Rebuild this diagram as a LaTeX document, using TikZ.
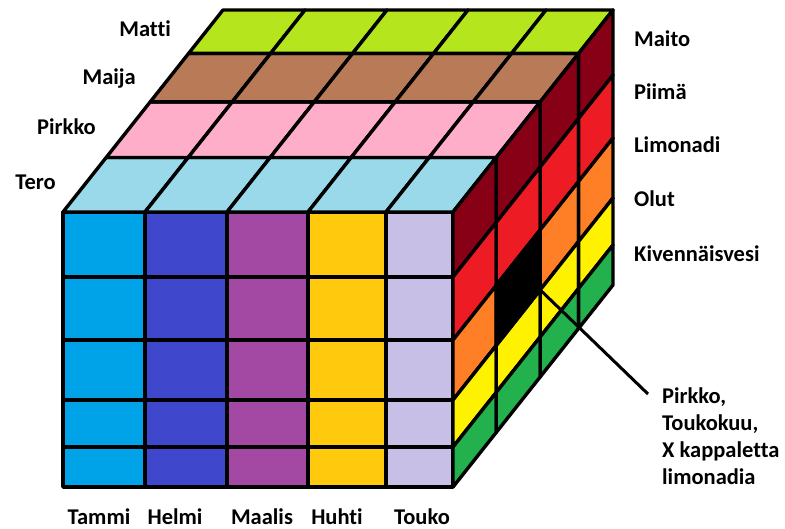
\documentclass[tikz,border=0pt]{standalone}
\usepackage{fontspec}
\setmainfont{Carlito}[Ligatures=NoCommon]
\usetikzlibrary{positioning}
\definecolor{tammi}{HTML}{00A2E8}
\definecolor{helmi}{HTML}{3F48CC}
\definecolor{maalis}{HTML}{A349A4}
\definecolor{huhti}{HTML}{FFC90E}
\definecolor{touko}{HTML}{C8BFE7}
\definecolor{tero}{HTML}{99D9EA}
\definecolor{pirkko}{HTML}{FFAEC9}
\definecolor{maija}{HTML}{B97A57}
\definecolor{matti}{HTML}{B5E61D}
\definecolor{maito}{HTML}{880015}
\definecolor{piima}{HTML}{ED1C24}
\definecolor{limonadi}{HTML}{FF7F27}
\definecolor{olut}{HTML}{FFF200}
\definecolor{vesi}{HTML}{22B14C}
\begin{document}
\begin{tikzpicture}[x=1pt, y=-1pt,
        cell/.style={draw=black, line width=3.4pt, line join=round},
        lbl/.style={font=\fontsize{22.5}{27}\selectfont\bfseries, inner sep=0pt}]
    \useasboundingbox (0,0) rectangle (785,529);
    \def\colx{{63,145,227,308,386,453}}
    \def\rowy{{212,277,340,400,447,487}}
    \def\dep{{0,0.27,0.545,0.785,1}}
    \foreach \i in {0,...,5}{
        \foreach \j in {0,...,5}{
            \foreach \k in {0,...,4}{
                \pgfmathsetmacro\px{\colx[\i]+160*\dep[\k]}
                \pgfmathsetmacro\py{\rowy[\j]-202*\dep[\k]}
                \coordinate (P\i-\j-\k) at (\px,\py);
            }
        }
    }
    \foreach \c [count=\i from 0] in {tammi, helmi, maalis, huhti, touko}{
        \pgfmathtruncatemacro\ii{\i+1}
        \foreach \j in {0,...,4}{
            \pgfmathtruncatemacro\jj{\j+1}
            \draw[cell, fill=\c] (P\i-\j-0) rectangle (P\ii-\jj-0);
        }
    }
    \foreach \c [count=\k from 0] in {tero, pirkko, maija, matti}{
        \pgfmathtruncatemacro\kk{\k+1}
        \foreach \i in {0,...,4}{
            \pgfmathtruncatemacro\ii{\i+1}
            \draw[cell, fill=\c] (P\i-0-\k) -- (P\ii-0-\k) -- (P\ii-0-\kk) -- (P\i-0-\kk) -- cycle;
        }
    }
    \foreach \c [count=\j from 0] in {maito, piima, limonadi, olut, vesi}{
        \pgfmathtruncatemacro\jj{\j+1}
        \foreach \k in {0,...,3}{
            \pgfmathtruncatemacro\kk{\k+1}
            \draw[cell, fill=\c] (P5-\j-\k) -- (P5-\j-\kk) -- (P5-\jj-\kk) -- (P5-\jj-\k) -- cycle;
        }
    }
    \draw[cell, fill=black] (P5-2-1) -- (P5-2-2) -- (P5-3-2) -- (P5-3-1) -- cycle;
    \foreach \t/\x/\y in {Matti/171/37, Maija/136/85, Pirkko/96/135, Tero/56/190}
        \node[lbl, anchor=base east] (N-\t) at (\x,\y) {\t};
    \foreach \t/\n/\y in {Maito/maito/47, Piimä/piima/100, Limonadi/limonadi/153, Olut/olut/207, Kivennäisvesi/vesi/262}
        \node[lbl, anchor=base west] (D-\n) at (634,\y) {\t};
    \foreach \t/\x in {Tammi/99, Helmi/175, Maalis/262, Huhti/337, Touko/422}
        \node[lbl, anchor=base] (M-\t) at (\x,524) {\t};
    \node[lbl, anchor=north west, align=left] (callout) at (662,388) {Pirkko,\\Toukokuu,\\X kappaletta\\limonadia};
    \draw[line width=3pt] (P5-3-2) -- ([xshift=-14pt,yshift=-6pt]callout.north west);
\end{tikzpicture}
\end{document}
